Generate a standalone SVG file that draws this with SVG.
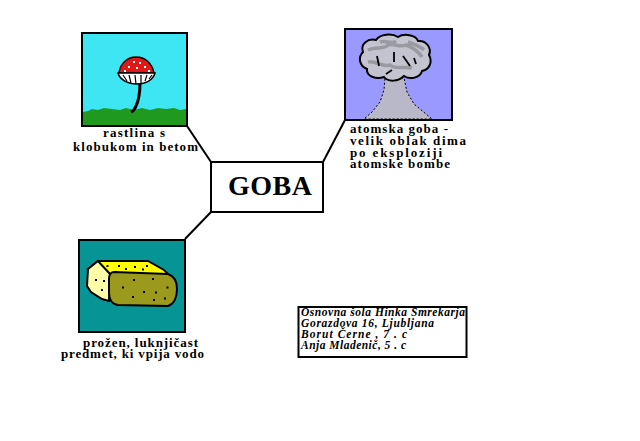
<svg xmlns="http://www.w3.org/2000/svg" width="640" height="441" viewBox="0 0 640 441">
<style>
.frame{stroke:#000;stroke-width:2}
.lbl{font-family:"Liberation Serif","Times New Roman",serif;font-weight:bold;font-size:13px;fill:#000}
.cred{font-family:"Liberation Serif","Times New Roman",serif;font-weight:bold;font-style:italic;font-size:11.5px;fill:#000}
.conn{stroke:#000;stroke-width:2;fill:none}
.dot{fill:#000}
</style>
<rect width="640" height="441" fill="#fff"/>
<g id="connectors">
<line class="conn" x1="187" y1="126" x2="211" y2="162"/>
<line class="conn" x1="345" y1="120" x2="323" y2="162"/>
<line class="conn" x1="185" y1="239" x2="211" y2="212"/>
</g>
<g id="center">
<rect x="211" y="162" width="112" height="50" fill="#fff" stroke="#000" stroke-width="2"/>
<text x="270" y="195" text-anchor="middle" font-family="Liberation Serif, Times New Roman, serif" font-weight="bold" font-size="28" textLength="84">GOBA</text>
</g>
<g id="mushroom">
<rect class="frame" x="82" y="33" width="105" height="93" fill="#3ee6f4"/>
<path d="M83,125 L83,112 L88,111 L92,109 L98,110 L104,108 L112,109 L120,110 L126,108 L134,110 L142,108 L150,110 L158,108 L166,109 L174,108 L180,110 L186,109 L186,125 Z" fill="#1f9a1f"/>
<path d="M140,82 C140,92 139,100 136,106 C135,109 133,111 131,112" stroke="#000" stroke-width="3" fill="none"/>
<path d="M119,73 C120,63 128,57 136,57 C145,57 152,63 154,73 Z" fill="#e01818" stroke="#000" stroke-width="1.5"/>
<path d="M118,73 L155,73 C153,80 146,84 137,84 C128,84 120,80 118,73 Z" fill="#fff" stroke="#000" stroke-width="1.5"/>
<path d="M123,75 L127,81 M129,75 L131,83 M135,75 L136,84 M141,75 L141,83 M147,75 L145,81 M152,75 L149,79" stroke="#000" stroke-width="1.2"/>
<rect x="133" y="61" width="2" height="2" fill="#fff"/>
<rect x="139" y="62" width="2" height="2" fill="#fff"/>
<rect x="128" y="66" width="2" height="2" fill="#fff"/>
<rect x="136" y="67" width="2" height="2" fill="#fff"/>
<rect x="144" y="66" width="2" height="2" fill="#fff"/>
<rect x="124" y="70" width="2" height="2" fill="#fff"/>
<rect x="148" y="70" width="2" height="2" fill="#fff"/>
<text class="lbl" x="103" y="137" textLength="62">rastlina s</text>
<text class="lbl" x="73" y="151" textLength="125">klobukom in betom</text>
</g>
<g id="atom">
<rect class="frame" x="345" y="29" width="107" height="91" fill="#9999ff"/>
<path d="M385,78 L404,78 L407,92 L414,104 L426,114 L432,119 L364,119 L372,112 L380,102 L384,90 Z" fill="#b8b8c8" stroke="#000" stroke-width="1" stroke-dasharray="2 2"/>
<path d="M363,52 C360,44 368,38 376,40 C380,34 392,33 398,37 C404,33 416,35 418,41 C426,40 432,48 429,55 C433,62 429,70 422,71 C420,78 410,80 404,76 C398,82 388,82 384,77 C376,80 366,76 367,69 C359,66 358,57 363,52 Z" fill="#c4c4d0" stroke="#000" stroke-width="2"/>
<path d="M368,50 C376,46 384,50 388,45 C394,43 400,48 406,45 C412,47 418,51 422,57 M368,62 C376,60 382,68 390,65 C396,70 404,66 412,68 M380,42 C386,40 392,45 396,41 M408,42 C414,44 420,46 424,50" stroke="#9a9aa2" stroke-width="3.5" fill="none"/>
<path d="M377,56 L379,66 M394,52 L394,62 M403,56 L410,66 M386,74 L392,70 M414,58 L416,64" stroke="#000" stroke-width="1.8" fill="none"/>
<text class="lbl" x="350" y="133" textLength="98">atomska goba -</text>
<text class="lbl" x="350" y="145" textLength="116">velik oblak dima</text>
<text class="lbl" x="350" y="156.5" textLength="92">po eksploziji</text>
<text class="lbl" x="350" y="168" textLength="100">atomske bombe</text>
</g>
<g id="sponge">
<rect class="frame" x="79" y="240" width="106" height="92" fill="#079494"/>
<path d="M88,269 L98,261 L148,261 L164,270 L170,276 L110,276 Z" fill="#ffff00" stroke="#000" stroke-width="2"/>
<path d="M88,269 L98,261 L110,274 L109,301 L102,299 L91,292 L87,286 Z" fill="#ffffa8" stroke="#000" stroke-width="2"/>
<path d="M114,272 L168,274 C174,276 177,282 177,289 C177,297 174,304 168,306 L118,305 C112,304 109,299 109,293 L109,278 C109,275 111,272 114,272 Z" fill="#9c9a1c" stroke="#000" stroke-width="2"/>
<rect class="dot" x="106.5" y="265" width="2" height="2"/>
<rect class="dot" x="118" y="265" width="2" height="2"/>
<rect class="dot" x="125" y="268" width="2" height="2"/>
<rect class="dot" x="134" y="266" width="2" height="2"/>
<rect class="dot" x="142" y="268.5" width="2" height="2"/>
<rect class="dot" x="146" y="265" width="2" height="2"/>
<rect class="dot" x="115" y="271" width="2" height="2"/>
<rect class="dot" x="95" y="279" width="2" height="2"/>
<rect class="dot" x="103" y="280" width="2" height="2"/>
<rect class="dot" x="101" y="289" width="2" height="2"/>
<rect class="dot" x="133" y="279" width="2" height="2"/>
<rect class="dot" x="152" y="278" width="2" height="2"/>
<rect class="dot" x="122" y="286.5" width="2" height="2"/>
<rect class="dot" x="143" y="291" width="2" height="2"/>
<rect class="dot" x="155" y="291.5" width="2" height="2"/>
<rect class="dot" x="166.5" y="286.5" width="2" height="2"/>
<rect class="dot" x="132" y="296" width="2" height="2"/>
<rect class="dot" x="153" y="299" width="2" height="2"/>
<rect class="dot" x="164" y="297.5" width="2" height="2"/>
<text class="lbl" x="83" y="347" textLength="115">prožen, luknjičast</text>
<text class="lbl" x="61" y="358" textLength="143">predmet, ki vpija vodo</text>
</g>
<g id="credits">
<rect x="298.5" y="307" width="168" height="50" fill="#fff" stroke="#000" stroke-width="2"/>
<text class="cred" x="301" y="316" textLength="164">Osnovna šola Hinka Smrekarja</text>
<text class="cred" x="301" y="327" textLength="133">Gorazdova 16, Ljubljana</text>
<text class="cred" x="301" y="338" textLength="106">Borut Černe , 7 . c</text>
<text class="cred" x="301" y="349" textLength="105">Anja Mladenič, 5 . c</text>
</g>
</svg>
